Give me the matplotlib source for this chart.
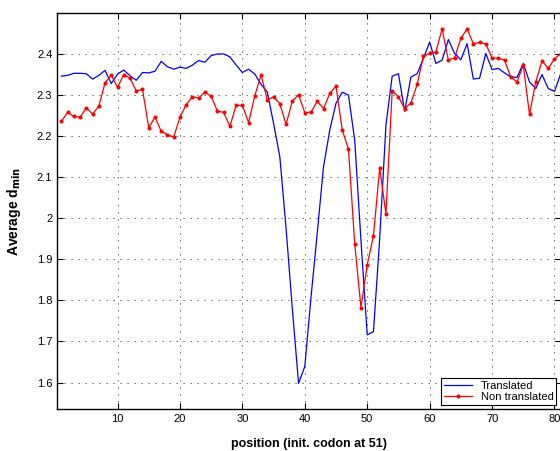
import numpy as np
import matplotlib
matplotlib.use('Agg')
import matplotlib.pyplot as plt
from matplotlib.ticker import FormatStrFormatter


positions = list(range(1, 82))

translated = [
    2.345, 2.347, 2.352, 2.352, 2.351, 2.338, 2.347, 2.359, 2.327, 2.350,
    2.360, 2.346, 2.335, 2.354, 2.353, 2.357, 2.381, 2.368, 2.362, 2.367,
    2.364, 2.372, 2.383, 2.379, 2.395, 2.399, 2.399, 2.392, 2.372, 2.354,
    2.362, 2.350, 2.325, 2.306, 2.230, 2.149, 1.975, 1.780, 1.598, 1.639,
    1.808, 1.964, 2.125, 2.214, 2.279, 2.306, 2.299, 2.189, 1.945, 1.716,
    1.724, 1.950, 2.226, 2.345, 2.351, 2.260, 2.343, 2.351, 2.388, 2.428,
    2.376, 2.384, 2.434, 2.400, 2.385, 2.424, 2.338, 2.340, 2.400, 2.361,
    2.364, 2.353, 2.343, 2.342, 2.376, 2.331, 2.315, 2.349, 2.315, 2.308,
    2.351,
]

non_translated = [
    2.235, 2.257, 2.247, 2.245, 2.268, 2.253, 2.272, 2.329, 2.347, 2.318,
    2.349, 2.340, 2.309, 2.313, 2.220, 2.245, 2.211, 2.203, 2.197, 2.245,
    2.276, 2.295, 2.292, 2.306, 2.296, 2.260, 2.257, 2.223, 2.274, 2.274,
    2.232, 2.298, 2.348, 2.287, 2.295, 2.278, 2.228, 2.284, 2.300, 2.256,
    2.258, 2.284, 2.266, 2.303, 2.321, 2.214, 2.167, 1.937, 1.782, 1.886,
    1.957, 2.122, 2.010, 2.309, 2.295, 2.266, 2.280, 2.325, 2.393, 2.401,
    2.404, 2.460, 2.384, 2.390, 2.437, 2.460, 2.424, 2.427, 2.423, 2.389,
    2.389, 2.384, 2.343, 2.331, 2.372, 2.252, 2.331, 2.382, 2.364, 2.387,
    2.400,
]

xticks = [10, 20, 30, 40, 50, 60, 70, 80]
yticks = [1.6, 1.7, 1.8, 1.9, 2.0, 2.1, 2.2, 2.3, 2.4]

plt.rcParams['font.family'] = ['Liberation Sans', 'DejaVu Sans']

fig = plt.figure(figsize=(5.6, 4.51), dpi=100)
ax = fig.add_axes([0.1023, 0.0925, 0.899, 0.879])

ax.plot(positions, translated, color='#0000ff', lw=0.9, label='Translated')
ax.plot(positions, non_translated, color='#ff0000', lw=0.9, marker='.',
        markersize=3.8, label='Non translated')

ax.set_xlim(0.35, 81)
ax.set_ylim(1.535, 2.499)
ax.set_xticks(xticks)
ax.set_yticks(yticks)
ax.yaxis.set_major_formatter(FormatStrFormatter('%g'))
ax.tick_params(direction='in', length=4, labelsize=8, top=True, right=True, width=0.8)
ax.grid(True, linestyle=(0, (1.2, 6)), color='#444444', lw=0.7)
for s in ax.spines.values():
    s.set_linewidth(1.0)

ax.set_xlabel('position (init. codon at 51)', fontsize=9, fontweight='bold', labelpad=10)
ax.set_ylabel(r'Average d$_{\mathbf{min}}$', fontsize=10, fontweight='bold', labelpad=10)

leg = ax.legend(loc='lower right', fontsize=8, fancybox=False, framealpha=1,
                edgecolor='black', borderpad=0.25, handlelength=2.5,
                labelspacing=0.1, borderaxespad=0.4)
leg.get_frame().set_linewidth(0.8)

plt.savefig('out.png', dpi=100)
